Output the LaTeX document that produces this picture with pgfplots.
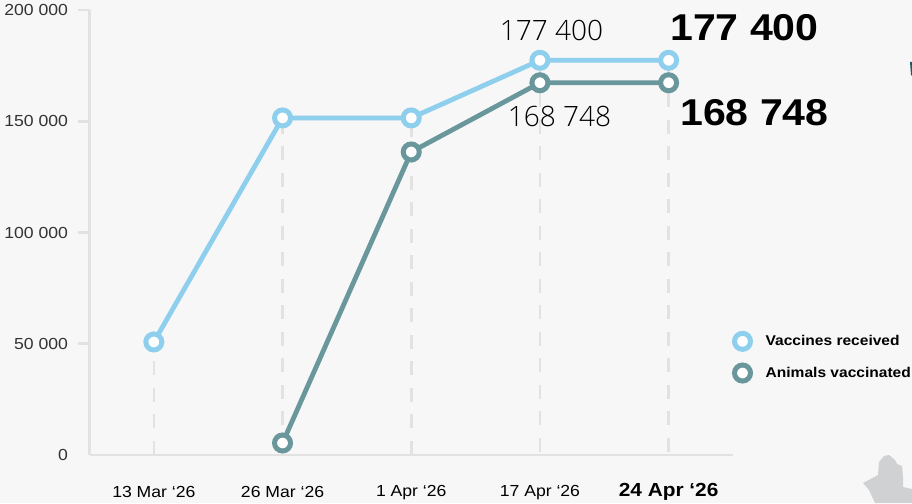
\documentclass[border=0pt]{standalone}
\usepackage{pgfplots}
\pgfplotsset{compat=1.18}
\usepackage{fontspec}
\setmainfont[FakeStretch=1.1]{Liberation Sans}
\newfontfamily\lightf{Open Sans Light}
\definecolor{bg}{HTML}{F7F7F7}
\definecolor{axc}{HTML}{E2E2E2}
\definecolor{vac}{HTML}{8ECFEE}
\definecolor{ani}{HTML}{69979C}
\definecolor{tk}{HTML}{333333}
\definecolor{mapc}{HTML}{D0D1D3}
\definecolor{dk}{HTML}{1F5A60}
\begin{document}
\begin{tikzpicture}[x=0.75pt,y=-0.75pt]
\useasboundingbox (0,0) rectangle (912,503);
\clip (0,0) rectangle (912,503);
\fill[bg] (0,0) rectangle (912,503);
\fill[mapc] (863,483) -- (878,475) -- (879,462) -- (884,456) -- (889,455) -- (895,460) -- (897,464) -- (902,466) -- (903,477) -- (903,487) -- (912,489) -- (912,503) -- (875,503) -- (869,490) -- cycle;
\fill[dk] (910,62) -- (912,62) -- (912,76) -- (911,75) -- cycle;
\begin{axis}[
  at={(89.5*0.75pt,-455*0.75pt)},anchor=south west,
  scale only axis,width=482.6pt,height=333.75pt,
  xmin=-0.5,xmax=4.5,ymin=0,ymax=200000,
  clip=false,
  axis x line=bottom,axis y line=left,
  axis line style={-,axc,line width=2pt},
  tick align=outside,
  scaled y ticks=false,
  xtick={0,1,2,3,4},
  xticklabels={13 Mar ‘26,26 Mar ‘26,1 Apr ‘26,17 Apr ‘26,{\fontsize{14.2}{15}\selectfont\textbf{24 Apr ‘26}}},
  ytick={50000,100000,150000,200000},
  yticklabels={50 000,100 000,150 000,200 000},
  extra y ticks={0},
  extra y tick labels={0},
  extra y tick style={major tick length=0pt,ytick style={draw=none},yticklabel style={xshift=-8.6pt}},
  major tick length=8.6pt,
  ytick style={draw=axc,line width=1.9pt},
  xtick style={draw=none},
  ticklabel style={font=\fontsize{12}{14}\selectfont,text=tk},
  xticklabel style={yshift=-19.3pt,text=black,anchor=center},
  yticklabel style={xshift=-4pt},
  legend cell align=left,
  legend style={at={(0.9985,0.279)},anchor=north west,draw=none,fill=none,inner sep=0pt,outer sep=0pt,
    font=\bfseries\fontsize{10.6}{12}\selectfont,row sep=8pt,
    /tikz/every odd column/.append style={column sep=7.5pt}},
  legend image code/.code={\draw[#1,line width=3.75pt,fill=white,mark=none,solid] (7pt,0pt) circle (6pt);},
]
\addplot[axc,line width=1.9pt,dash pattern=on 10.5pt off 9.4pt,forget plot] coordinates {(0,0)(0,50800)};
\addplot[axc,line width=1.9pt,dash pattern=on 10.5pt off 9.4pt,dash phase=17.6pt,forget plot] coordinates {(1,0)(1,151500)};
\addplot[axc,line width=1.9pt,dash pattern=on 10.5pt off 9.4pt,forget plot] coordinates {(2,0)(2,151500)};
\addplot[axc,line width=1.9pt,dash pattern=on 10.5pt off 9.4pt,dash phase=17.6pt,forget plot] coordinates {(3,0)(3,177400)};
\addplot[axc,line width=1.9pt,dash pattern=on 10.5pt off 9.4pt,dash phase=17.6pt,forget plot] coordinates {(4,0)(4,177400)};
\addplot[vac,line width=3.6pt,mark=*,mark size=6pt,mark options={fill=white,draw=vac,line width=3.75pt}] coordinates {(0,50800)(1,151500)(2,151500)(3,177400)(4,177400)};
\addplot[ani,line width=3.6pt,mark=*,mark size=6pt,mark options={fill=white,draw=ani,line width=3.75pt}] coordinates {(1,5400)(2,136200)(3,167300)(4,167300)};
\legend{Vaccines received,Animals vaccinated}
\end{axis}
\node[font=\lightf\fontsize{21}{24}\selectfont,text=black] at (551.5,30.5) {177 400};
\node[font=\lightf\fontsize{21}{24}\selectfont,text=black] at (559.5,116.7) {168 748};
\node[font=\bfseries\fontsize{28}{32}\selectfont,text=black] at (744.5,27.5) {177 400};
\node[font=\bfseries\fontsize{28}{32}\selectfont,text=black] at (754.5,112.7) {168 748};
\end{tikzpicture}
\end{document}
